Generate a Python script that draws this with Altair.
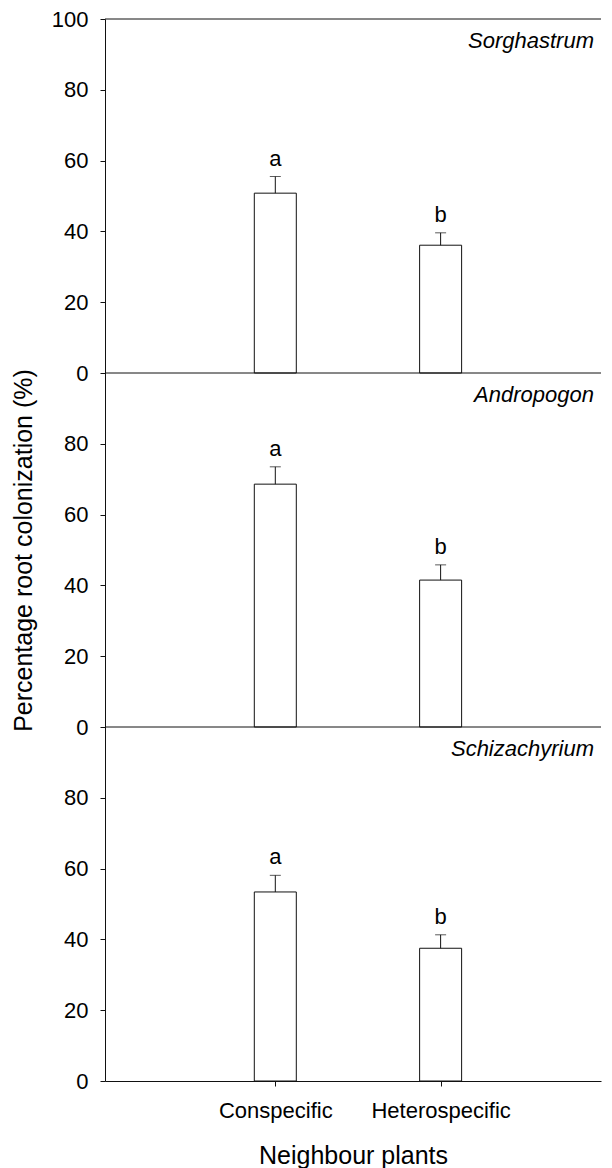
import altair as alt
import pandas as pd

species = ["Sorghastrum", "Andropogon", "Schizachyrium"]
neighbour = ["Conspecific", "Heterospecific"]
means = {
    "Sorghastrum": [50.8, 36.1],
    "Andropogon": [68.6, 41.5],
    "Schizachyrium": [53.4, 37.5],
}
ses = {
    "Sorghastrum": [4.7, 3.5],
    "Andropogon": [4.9, 4.3],
    "Schizachyrium": [4.7, 3.8],
}
letters = ["a", "b"]
y_ticks = [0, 20, 40, 60, 80]

FONT = "Liberation Sans"
W = 496
H = 1062
n = len(species)
ymax = 100 * n

rows = []
for i, sp in enumerate(species):
    base = (n - 1 - i) * 100  # stacked panels, first species on top
    for j, nb in enumerate(neighbour):
        m = means[sp][j]
        s = ses[sp][j]
        rows.append({"species": sp, "neighbour": nb, "pos": j + 1, "base": base,
                     "top": base + m, "upper": base + m + s, "letter": letters[j]})
df = pd.DataFrame(rows)
panels = pd.DataFrame({"species": species,
                       "ptop": [(n - i) * 100 for i in range(n)]})

tick_values = [p * 100 + t for p in range(n) for t in y_ticks] + [ymax]
x_label_expr = " : ".join(
    [f"datum.value == {k + 1} ? '{nb}'" for k, nb in enumerate(neighbour[:-1])] + [f"'{neighbour[-1]}'"])

x = alt.X("pos:Q",
          scale=alt.Scale(domain=[0, 2.94], nice=False, zero=False),
          axis=alt.Axis(title="Neighbour plants", values=list(range(1, len(neighbour) + 1)),
                        labelExpr=x_label_expr, labelAngle=0, tickSize=5,
                        labelPadding=14, titlePadding=22, grid=False))
yscale = alt.Scale(domain=[0, ymax], nice=False)
y = alt.Y("top:Q", scale=yscale,
          axis=alt.Axis(values=tick_values, title="Percentage root colonization (%)",
                        labelExpr=f"datum.value == {ymax} ? '100' : format(datum.value % 100, 'd')",
                        tickSize=5, labelPadding=12, titlePadding=15, grid=False))

ink = "#111111"
b = alt.Chart(df)
bars = b.mark_bar(size=42, fill="white", stroke=ink, strokeWidth=1).encode(x=x, y=y, y2="base:Q")
err = b.mark_rule(color=ink, strokeWidth=1).encode(x=x, y="top:Q", y2="upper:Q")
cap = b.mark_tick(size=11, thickness=1, color=ink, orient="horizontal").encode(x=x, y="upper:Q")
lab = b.mark_text(font=FONT, fontSize=22, dy=-11, baseline="alphabetic", color="black").encode(
    x=x, y="upper:Q", text="letter:N")

pc = alt.Chart(panels)
borders = pc.mark_rule(color=ink, strokeWidth=1).encode(y=alt.Y("ptop:Q", scale=yscale))
names = pc.mark_text(font=FONT, fontSize=22, fontStyle="italic", align="right",
                     baseline="alphabetic", dy=29, color="black").encode(
    x=alt.value(W - 7), y=alt.Y("ptop:Q", scale=yscale), text="species:N")

chart = alt.layer(bars, err, cap, lab, borders, names).properties(
    width=W, height=H,
    padding={"left": 3, "top": 0, "right": 0, "bottom": 0}
).configure_view(stroke=None).configure_axis(
    labelFont=FONT, titleFont=FONT, labelFontSize=22, titleFontSize=25,
    titleFontWeight="normal", labelColor="black", titleColor="black",
    domainColor=ink, tickColor=ink, domainWidth=1, tickWidth=1
)

chart.save("out.html", embed_options={"renderer": "svg", "actions": False})
